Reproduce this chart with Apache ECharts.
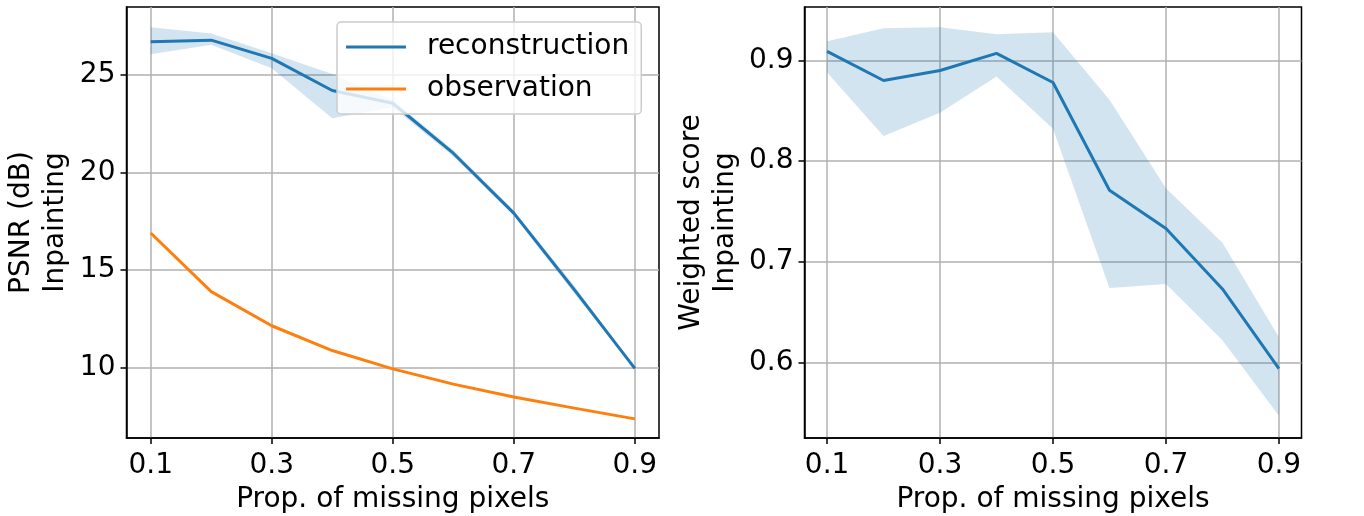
<!DOCTYPE html>
<html>
<head>
<meta charset="utf-8">
<script src="https://cdn.jsdelivr.net/npm/echarts@6/dist/echarts.min.js"></script>
<style>html,body{margin:0;padding:0;background:#fff}#c{width:1364px;height:516px}</style>
</head>
<body>
<div id="c"></div>
<script>
const props = [0.1, 0.2, 0.3, 0.4, 0.5, 0.6, 0.7, 0.8, 0.9];
const xTicks = [0.1, 0.3, 0.5, 0.7, 0.9];
const psnrTicks = [10, 15, 20, 25];
const scoreTicks = [0.6, 0.7, 0.8, 0.9];

const reconPSNR = [26.7, 26.78, 25.85, 24.2, 23.55, 20.99, 17.92, 14.0, 9.97];
const reconPSNRLow = [26.06, 26.54, 25.34, 22.78, 23.35, 20.83, 17.8, 13.8, 9.94];
const reconPSNRHigh = [27.44, 27.12, 26.11, 25.05, 23.7, 21.15, 18.05, 14.2, 10.0];
const obsPSNR = [16.9, 13.9, 12.15, 10.88, 9.94, 9.16, 8.5, 7.93, 7.38];

const score = [0.909, 0.880, 0.890, 0.907, 0.878, 0.771, 0.733, 0.673, 0.594];
const scoreLow = [0.888, 0.825, 0.848, 0.884, 0.832, 0.674, 0.678, 0.622, 0.547];
const scoreHigh = [0.919, 0.932, 0.933, 0.926, 0.928, 0.861, 0.773, 0.719, 0.625];

const FONT = 'DejaVu Sans';
const BLUE = '#1f77b4', ORANGE = '#ff7f0e', BAND = 'rgba(31,119,180,0.2)';
const pairs = (ys) => props.map((x, i) => [x, ys[i]]);

function xAxis(gi) {
  return {
    type: 'value', gridIndex: gi, min: 0.06, max: 0.94,
    name: 'Prop. of missing pixels', nameLocation: 'middle', nameGap: 48,
    nameTextStyle: {fontFamily: FONT, fontSize: 28, color: '#000'},
    axisLine: {show: true, lineStyle: {color: '#000', width: 1.5}},
    axisTick: {show: true, length: 6, customValues: xTicks, lineStyle: {color: '#000', width: 1.5}},
    axisLabel: {customValues: xTicks, fontFamily: FONT, fontSize: 28, color: '#000', margin: 14,
      formatter: v => v.toFixed(1)},
    splitLine: {show: true, lineStyle: {color: '#b0b0b0', width: 1.5}}
  };
}
function yAxis(gi, name, min, max, ticks, gap, fmt) {
  return {
    type: 'value', gridIndex: gi, min: min, max: max,
    name: name, nameLocation: 'middle', nameGap: gap, nameRotate: 90,
    nameTextStyle: {fontFamily: FONT, fontSize: 28, color: '#000', lineHeight: 34, align: 'center'},
    axisLine: {show: true, lineStyle: {color: '#000', width: 1.5}},
    axisTick: {show: true, length: 6, customValues: ticks, lineStyle: {color: '#000', width: 1.5}},
    axisLabel: {customValues: ticks, fontFamily: FONT, fontSize: 28, color: '#000', margin: 11, formatter: fmt},
    splitLine: {show: true, lineStyle: {color: '#b0b0b0', width: 1.5}}
  };
}
function band(xi, lo, hi) {
  return {
    type: 'custom', xAxisIndex: xi, yAxisIndex: xi, silent: true, z: 1,
    data: props.map((x, i) => [x, lo[i], hi[i]]),
    encode: {x: 0, y: [1, 2]},
    renderItem: (params, api) => {
      if (params.dataIndex !== 0) return null;
      const pts = [];
      for (let i = 0; i < props.length; i++) pts.push(api.coord([props[i], hi[i]]));
      for (let i = props.length - 1; i >= 0; i--) pts.push(api.coord([props[i], lo[i]]));
      return {type: 'polygon', shape: {points: pts}, style: {fill: BAND}};
    }
  };
}

const chart = echarts.init(document.getElementById('c'), null, {renderer: 'canvas'});
chart.setOption({
  animation: false,
  backgroundColor: '#fff',
  grid: [
    {left: 126.5, right: 1364 - 659, top: 7, bottom: 78, outerBoundsMode: 'none', containLabel: false,
      show: true, borderColor: '#000', borderWidth: 1.5, backgroundColor: 'transparent'},
    {left: 804.5, right: 1364 - 1301.5, top: 7, bottom: 78, outerBoundsMode: 'none', containLabel: false,
      show: true, borderColor: '#000', borderWidth: 1.5, backgroundColor: 'transparent'}
  ],
  xAxis: [xAxis(0), xAxis(1)],
  yAxis: [
    yAxis(0, 'PSNR (dB)\nInpainting', 6.4, 28.48, psnrTicks, 54, v => String(v)),
    yAxis(1, 'Weighted score\nInpainting', 0.525, 0.953, scoreTicks, 62, v => v.toFixed(1))
  ],
  legend: {
    data: ['reconstruction', 'observation'],
    orient: 'vertical', left: 337, top: 22,
    icon: 'rect',
    itemWidth: 60, itemHeight: 3, itemGap: 14,
    padding: [11, 12, 11, 9],
    backgroundColor: 'rgba(255,255,255,0.8)', borderColor: '#cccccc', borderWidth: 1.5, borderRadius: 4,
    textStyle: {fontFamily: FONT, fontSize: 28, color: '#000', padding: [0, 0, 0, 16]}
  },
  series: [
    band(0, reconPSNRLow, reconPSNRHigh),
    {name: 'reconstruction', type: 'line', xAxisIndex: 0, yAxisIndex: 0, data: pairs(reconPSNR),
      symbol: 'none', lineStyle: {color: BLUE, width: 3}, itemStyle: {color: BLUE}, z: 3},
    {name: 'observation', type: 'line', xAxisIndex: 0, yAxisIndex: 0, data: pairs(obsPSNR),
      symbol: 'none', lineStyle: {color: ORANGE, width: 3}, itemStyle: {color: ORANGE}, z: 3},
    band(1, scoreLow, scoreHigh),
    {name: 'score', type: 'line', xAxisIndex: 1, yAxisIndex: 1, data: pairs(score),
      symbol: 'none', lineStyle: {color: BLUE, width: 3}, itemStyle: {color: BLUE}, z: 3}
  ]
});
</script>
</body>
</html>
